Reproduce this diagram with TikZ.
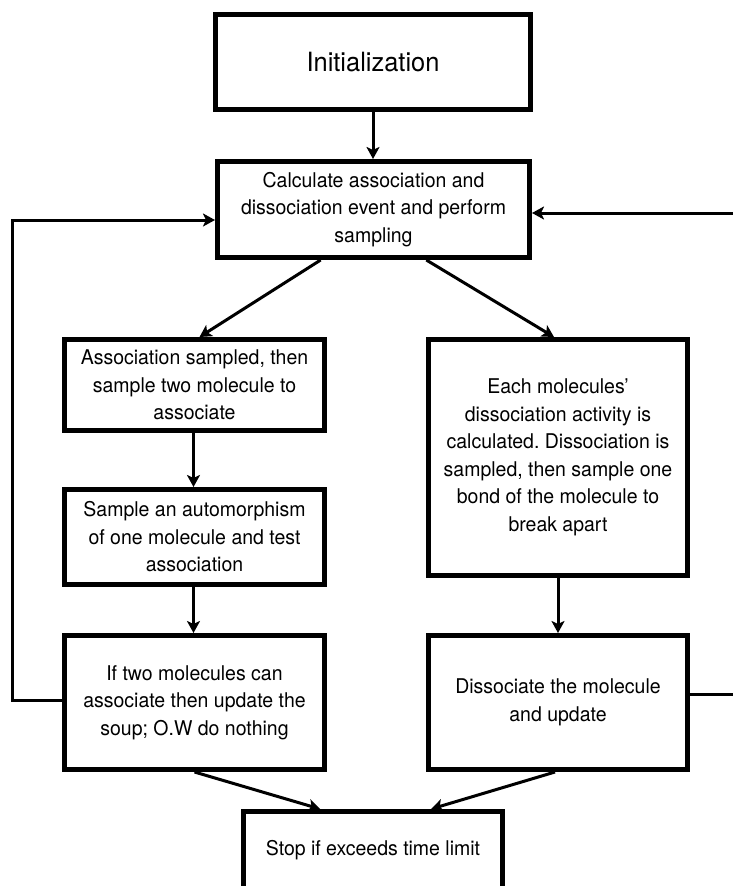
\documentclass[tikz,border=0pt]{standalone}
\usepackage{fontspec}
\setmainfont{TeX Gyre Heros}[FakeStretch=0.96]
\frenchspacing
\usetikzlibrary{arrows.meta,calc}
\begin{document}
\begin{tikzpicture}[x=1pt,y=-1pt,
  box/.style={draw, line width=5pt, rectangle, align=center, inner sep=0pt,
    font=\fontsize{20.3}{27.5}\selectfont},
  conn/.style={line width=3pt, -{Stealth[length=12pt,width=13pt,inset=3pt]}}]
\useasboundingbox (0,0) rectangle (732,886);
\node[box, minimum width=315pt, minimum height=95pt, font=\fontsize{26.5}{30}\selectfont] (init) at (373,62) {Initialization};
\node[box, minimum width=312pt, minimum height=96pt] (calc) at (373.5,209.5) {Calculate association and\\dissociation event and perform\\sampling};
\node[box, minimum width=260pt, minimum height=91pt] (assoc) at (194.5,385) {Association sampled, then\\sample two molecule to\\associate};
\node[box, minimum width=260pt, minimum height=95pt] (autom) at (194.5,537) {Sample an automorphism\\of one molecule and test\\association};
\node[box, minimum width=260pt, minimum height=134pt] (ifb) at (194.5,702.5) {If two molecules can\\associate then update the\\soup; O.W do nothing};
\node[box, minimum width=259pt, minimum height=236pt] (each) at (558,457.5) {Each molecules'\\dissociation activity is\\calculated. Dissociation is\\sampled, then sample one\\bond of the molecule to\\break apart};
\node[box, minimum width=259pt, minimum height=134pt] (diss) at (558,702.5) {Dissociate the molecule\\and update};
\node[box, minimum width=259pt, minimum height=77.5pt] (stop) at (373,850.25) {Stop if exceeds time limit};

\coordinate (l2) at (12,220);
\coordinate (r2) at (745,213);

\draw[conn] (init.south) -- (init.south |- calc.north);
\draw[conn] ($(calc.south west)!1/3!(calc.south east)$) -- ([xshift=5pt]assoc.north);
\draw[conn] ($(calc.south west)!2/3!(calc.south east)$) -- ([xshift=-4pt]each.north);
\draw[conn] ([xshift=-1pt]assoc.south) -- ([xshift=-1pt]autom.north);
\draw[conn] ([xshift=-1pt]autom.south) -- ([xshift=-1pt]ifb.north);
\draw[conn] (each.south) -- (diss.north);
\draw[conn] (ifb.south) -- ($(stop.north west)!0.3!(stop.north east)$);
\draw[conn] ([xshift=-3pt]diss.south) -- ($(stop.north west)!0.72!(stop.north east)$);
\draw[conn] (ifb.west |- 0,700) -| (l2) -- (l2 -| calc.west);
\draw[conn] (diss.east |- 0,694) -| (r2) -- (r2 -| calc.east);
\end{tikzpicture}
\end{document}
